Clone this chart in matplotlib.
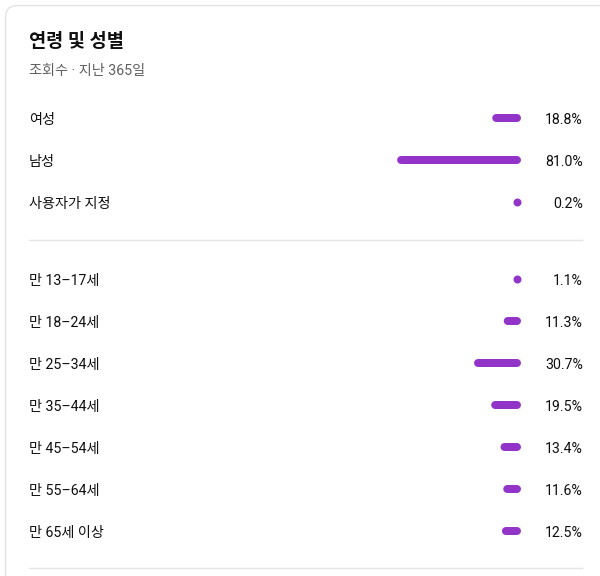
import matplotlib.pyplot as plt
from matplotlib.patches import FancyBboxPatch
from matplotlib.transforms import blended_transform_factory

plt.rcParams['font.family'] = ['Roboto', 'Noto Sans CJK KR', 'DejaVu Sans']

# 데이터
titulo = '연령 및 성별'
subtitulo = '조회수 · 지난 365일'
generos = ['여성', '남성', '사용자가 지정']
valores_genero = [18.8, 81.0, 0.2]
idades = ['만 13–17세', '만 18–24세', '만 25–34세', '만 35–44세',
          '만 45–54세', '만 55–64세', '만 65세 이상']
valores_idade = [1.1, 11.3, 30.7, 19.5, 13.4, 11.6, 12.5]

ROXO = '#9334c8'
TEXTO = '#0f0f0f'
CINZA = '#606060'
LINHA = '#e5e5e5'

W, H = 600, 576
fig = plt.figure(figsize=(W / 100, H / 100), dpi=100)
fig.patch.set_facecolor('white')

# eixo de fundo em pixels
bg = fig.add_axes([0, 0, 1, 1])
bg.set_xlim(0, W)
bg.set_ylim(H, 0)
bg.axis('off')

# cartão com borda arredondada
card = FancyBboxPatch((5.5, 5.5), 640, 640, boxstyle='round,pad=0,rounding_size=12',
                      facecolor='white', edgecolor='#e3e3e3', linewidth=1.0)
bg.add_patch(card)

bg.text(29, 42, titulo, fontsize=13.4, fontweight='bold', color=TEXTO, va='center', ha='left')
bg.text(29, 71, subtitulo, fontsize=10.2, color=CINZA, va='center', ha='left')

# separadores
for y in (240, 568):
    bg.plot([29, 583], [y, y], color=LINHA, linewidth=1.0, solid_capstyle='butt')

px_por_pct = 1.53
largura_lw = 8 * 72 / 100  # 8 px em pontos
raio = 4 / px_por_pct       # raio do cap em %


def painel(y_topo, rotulos, valores):
    n = len(rotulos)
    passo = 42
    alto = passo * n
    x0 = 521 - 100 * px_por_pct
    ax = fig.add_axes([x0 / W, 1 - (y_topo + alto) / H, 100 * px_por_pct / W, alto / H])
    ax.set_xlim(100, 0)
    ax.set_ylim(n - 0.5, -0.5)
    ax.axis('off')
    ax.patch.set_alpha(0)
    for i, v in enumerate(valores):
        nucleo = max(v - 2 * raio, 0)
        if nucleo > 0:
            ax.plot([raio, raio + nucleo], [i, i], color=ROXO, linewidth=largura_lw,
                    solid_capstyle='round', snap=False, zorder=3, clip_on=False)
        else:
            # valores muito pequenos viram um ponto
            ax.plot([raio], [i], color=ROXO, marker='o', markersize=largura_lw,
                    markeredgewidth=0, linestyle='none', zorder=3, clip_on=False)
    trans = blended_transform_factory(bg.transData, ax.transData)
    dy = 2 / passo
    for i, (r, v) in enumerate(zip(rotulos, valores)):
        ax.text(29, i + dy, r, transform=trans, fontsize=10.2, color=TEXTO, va='center', ha='left')
        ax.text(583, i + dy, f'{v:.1f}%', transform=trans, fontsize=10.2, color=TEXTO,
                va='center', ha='right')
    return ax


painel(97, generos, valores_genero)
painel(258, idades, valores_idade)

fig.savefig('out.png', dpi=100, facecolor='white')
